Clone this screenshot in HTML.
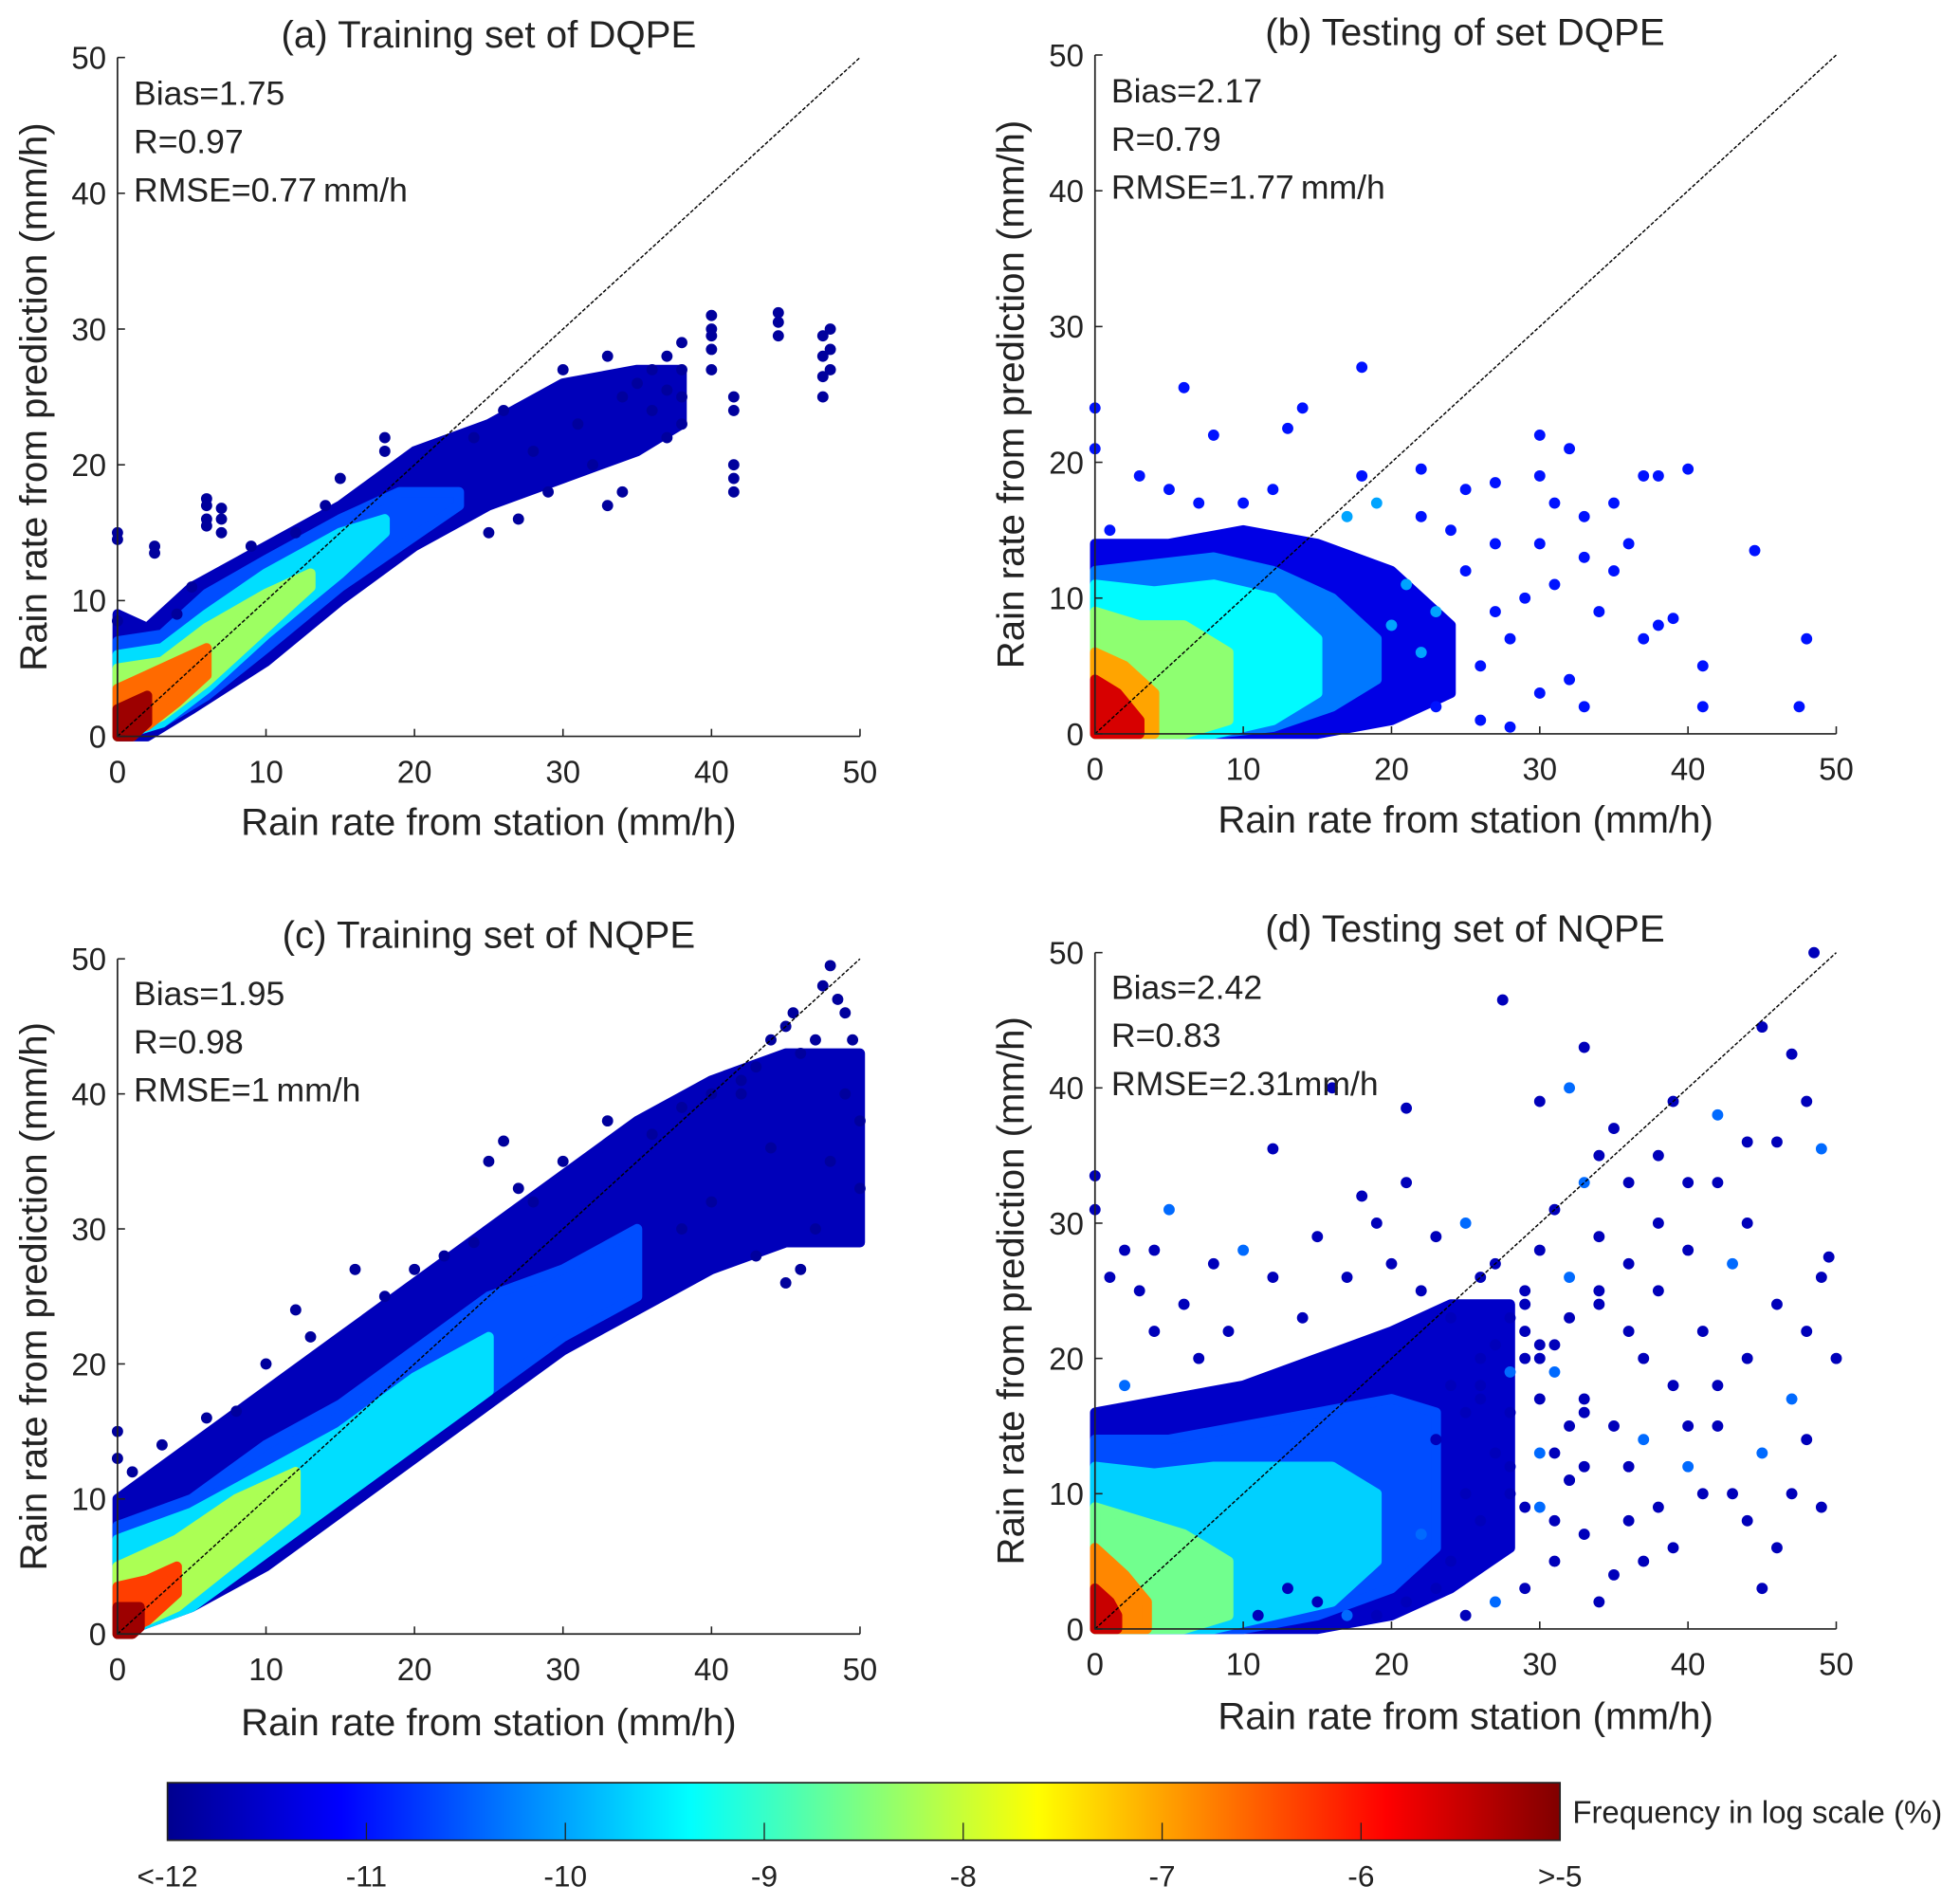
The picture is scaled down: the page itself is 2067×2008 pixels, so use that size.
<!DOCTYPE html>
<html><head><meta charset="utf-8">
<style>
html,body{margin:0;padding:0;background:#fff;}
svg{display:block;font-family:"Liberation Sans",Arial,sans-serif;}
</style></head>
<body>
<svg id="fig" width="2067" height="2008" viewBox="0 0 1568 1523" preserveAspectRatio="none" xmlns="http://www.w3.org/2000/svg">
<defs>
<linearGradient id="jet" x1="0" x2="1" y1="0" y2="0">
<stop offset="0" stop-color="#00008f"/><stop offset="0.125" stop-color="#0000ff"/><stop offset="0.375" stop-color="#00ffff"/><stop offset="0.625" stop-color="#ffff00"/><stop offset="0.875" stop-color="#ff0000"/><stop offset="1" stop-color="#800000"/>
</linearGradient>
</defs>
</svg>
<script>
// ---- data ----
const panelTitles = ["(a) Training set of DQPE","(b) Testing of set DQPE","(c) Training set of NQPE","(d) Testing set of NQPE"];
const panelStats = [["Bias=1.75","R=0.97","RMSE=0.77\u2009mm/h"],["Bias=2.17","R=0.79","RMSE=1.77\u2009mm/h"],["Bias=1.95","R=0.98","RMSE=1\u2009mm/h"],["Bias=2.42","R=0.83","RMSE=2.31mm/h"]];
const tickValues = [0,10,20,30,40,50];
const cbTickLabels = ["<-12","-11","-10","-9","-8","-7","-6",">-5"];
const cbTickValues = [-12,-11,-10,-9,-8,-7,-6,-5];

// density envelopes: level, x, lower, upper
const aEnvLevel = [-11.6,-10.6,-9.6,-8.3,-6.6,-5.2];
const aEnvX = [[0,2,5,10,15,20,25,30,35,38],[0,3,6,10,15,19,23],[0,3,6,10,15,18],[0,3,6,10,13],[0,2,4,6],[0,1,2]];
const aEnvLo = [[0,0,2,5.5,10,14,17,19,21,23],[0,1,3,6.5,11,14,17],[0,1,3.5,7.5,12,15],[0,1.5,4,8,11],[0,0.8,2.5,4.5],[0,0,1]];
const aEnvHi = [[9,8,11,14,17,21,23,26,27,27],[7,7.5,10.5,13,16,18,18],[6,6.5,9,12,15,16],[5,5.5,8,10.5,12],[3.5,4.5,5.5,6.5],[2,2.5,3]];

const bEnvLevel = [-11.3,-10.3,-9.4,-8.4,-7,-5.6];
const bEnvX = [[0,5,10,15,20,24],[0,4,8,12,16,19],[0,4,8,12,15],[0,3,6,9],[0,2,4],[0,1.5,3]];
const bEnvLo = [[0,0,0,0,1,3],[0,0,0,0.5,2,4],[0,0,0,1,3],[0,0,0,1],[0,0,0],[0,0,0]];
const bEnvHi = [[14,14,15,14,12,8],[12,12.5,13,12,10,7],[11,10.5,11,10,7],[9,8,8,6],[6,5,3],[4,3,1]];

const cEnvLevel = [-11.6,-10.6,-9.6,-8.2,-6.3,-5.2];
const cEnvX = [[0,5,10,15,20,25,30,35,40,45,50],[0,5,10,15,20,25,30,35],[0,5,10,15,20,25],[0,4,8,12],[0,2,4],[0,1,1.5]];
const cEnvLo = [[0,2,5,9,13,17,21,24,27,29,29],[0,2,6,10,14,18,22,25],[0,2,6,10,14,18],[0,2,5.5,9],[0,1,3],[0,0,0.5]];
const cEnvHi = [[10,14,18,22,26,30,34,38,41,43,43],[8,10,14,17,21,25,27,30],[7,9,12,15,19,22],[5,7,10,12],[3.5,4,5],[2,2,2]];

const dEnvLevel = [-11.5,-10.6,-9.7,-8.6,-6.8,-5.5];
const dEnvX = [[0,5,10,15,20,24,28],[0,5,10,15,20,23],[0,4,8,12,16,19],[0,3,6,9],[0,2,3.5],[0,1,1.5]];
const dEnvLo = [[0,0,0,0,1,3,6],[0,0,0,1,3,6],[0,0,0,1,2,5],[0,0,0,1],[0,0,0],[0,0,0]];
const dEnvHi = [[16,17,18,20,22,24,24],[14,14,15,16,17,16],[12,11.5,12,12,12,10],[9,8,7,5],[6,4,2],[3,2,1]];

// outlier points
const aPtsX = [0,0,0,2.5,2.5,6,6,6,6,7,7,7,40,40,40,40,40,44.5,44.5,44.5,47.5,47.5,47.5,47.5,48,48,48,41.5,41.5,41.5,41.5,41.5,38,38,38,38,37,37,37,36,36,35,34,34,33,33,32,31,30,29,28,27,26,25,24,15,18,18,14,12,9,5,4];
const aPtsY = [14.5,15,8.5,13.5,14,16,17,17.5,15.5,15,16,16.8,27,28.5,30,31,29.5,29.5,30.5,31.2,25,26.5,28,29.5,27,28.5,30,18,19,20,24,25,23,25,27,29,22,25.5,28,24,27,26,18,25,17,28,20,23,27,18,21,16,24,15,22,19,21,22,17,15,14,11,9];
const aPtsC = aPtsX.map(() => -11.8);

const bPtsX = [0,0,6,8,14,13,18,18,3,5,22,25,27,30,32,30,31,33,35,37,38,40,36,44.5,39,37,38,41,41,47.5,48,33,32,28,30,29,31,33,26,27,25,23,22,20,24,27,30,34,35,28,26,22,19,17,21,23,10,12,7,1];
const bPtsY = [24,21,25.5,22,24,22.5,27,19,19,18,19.5,18,18.5,22,21,19,17,16,17,19,19,19.5,14,13.5,8.5,7,8,5,2,2,7,2,4,0.5,3,10,11,13,5,9,12,2,6,8,15,14,14,9,12,7,1,16,17,16,11,9,17,18,17,15];
const bPtsC = [-11,-11,-11,-11,-11,-11,-11,-11,-11,-11,-11,-11,-11,-11,-11,-11,-11,-11,-11,-11,-11,-11,-11,-11,-11,-11,-11,-11,-11,-11,-11,-11,-11,-11,-11,-11,-11,-11,-11,-11,-11,-11,-10,-10,-11,-11,-11,-11,-11,-11,-11,-11,-10,-10,-10,-10,-11,-11,-11,-11];

const cPtsX = [0,0,1,3,6,8,10,12,13,16,18,20,22,24,26,27,25,28,30,33,36,38,40,42,43,44,45,45.5,46,47,47.5,48,48.5,49,49.5,49,48,47,46,50,50,44,42,40,38,43,45];
const cPtsY = [15,13,12,14,16,16.5,20,24,22,27,25,27,28,29,36.5,33,35,32,35,38,37,39,40,41,42,44,45,46,43,44,48,49.5,47,46,44,40,35,30,27,38,33,36,40,32,30,28,26];
const cPtsC = cPtsX.map(() => -11.8);

const dPtsX = [0,0,1,5,4,2,12,16,27.5,33,32,30,35,34,36,38,40,42,44,46,48,47,45,48.5,49,49.5,49,48,50,46,44,43,40,41,38,37,39,42,45,47,49,44,46,45,43,40,38,36,35,33,31,29,27,25,23,21,37,34,32,30,28,33,35,31,29,27,25,23,21,21,18,15,12,10,8,6,9,7,4,3,2,14,17,19,26,28,30,32,34,36,38,40,42,44,47,48,42,39,36,34,31,33,29,26,24,22,20,15,17,19,11,13,28,26,24,22,25,30,33,36,39,41,37,24,27,29,31,29,30,31,32,27,26,28,25,23,30,32,34,29,31,33,26,28,30,32];
const dPtsY = [33.5,31,26,31,28,28,35.5,40,46.5,43,40,39,37,35,33,35,33,38,36,36,39,42.5,44.5,50,35.5,27.5,26,22,20,24,30,27,28,22,25,20,18,15,13,10,9,8,6,3,10,12,9,8,4,7,5,3,2,1,3,2,5,2,11,13,16,17,15,21,24,27,30,29,33,38.5,32,29,26,28,27,24,22,20,22,25,18,23,26,30,26,23,28,26,24,22,30,15,18,20,17,14,33,39,27,29,31,33,20,20,23,25,27,2,1,1,1,3,10,8,5,7,16,17,12,12,6,10,14,18,13,9,8,25,21,19,15,21,17,12,10,14,9,23,25,22,13,16,18,19,20,11,9];
const dPtsC = dPtsX.map((v,i) => (i % 7 === 3 ? -10.4 : -11.6));

// ---- layout ----
const NS = "http://www.w3.org/2000/svg";
const svg = document.getElementById("fig");
const panels = [
  {x0:94,x1:688,y0:589,y1:46,env:[aEnvLevel,aEnvX,aEnvLo,aEnvHi],pts:[aPtsX,aPtsY,aPtsC],tx:391,ty:28,sx:107,sy:74,xl:657},
  {x0:876,x1:1469,y0:587,y1:44,env:[bEnvLevel,bEnvX,bEnvLo,bEnvHi],pts:[bPtsX,bPtsY,bPtsC],tx:1172,ty:26,sx:889,sy:72,xl:655},
  {x0:94,x1:688,y0:1307,y1:767,env:[cEnvLevel,cEnvX,cEnvLo,cEnvHi],pts:[cPtsX,cPtsY,cPtsC],tx:391,ty:748,sx:107,sy:794,xl:1377},
  {x0:876,x1:1469,y0:1303,y1:762,env:[dEnvLevel,dEnvX,dEnvLo,dEnvHi],pts:[dPtsX,dPtsY,dPtsC],tx:1172,ty:743,sx:889,sy:789,xl:1372}
];
function jet(v){
  let t=(v+12)/7; t=Math.max(0,Math.min(1,t));
  const f=(x)=>Math.max(0,Math.min(1,1.5-Math.abs(4*t-x)));
  const r=f(3),g=f(2),b=f(1);
  return `rgb(${Math.round(r*255)},${Math.round(g*255)},${Math.round(b*255)})`;
}
function mk(tag,attrs,parent){const e=document.createElementNS(NS,tag);for(const k in attrs)e.setAttribute(k,attrs[k]);(parent||svg).appendChild(e);return e;}

panels.forEach((p,pi)=>{
  const g=mk("g",{});
  
  
  const X=(v)=>p.x0+(p.x1-p.x0)*v/50;
  const Y=(v)=>p.y0+(p.y1-p.y0)*v/50;
  const [lv,ex,lo,hi]=p.env;
  lv.forEach((L,k)=>{
    const up=ex[k].map((x,i)=>X(x)+","+Y(hi[k][i]));
    const dn=ex[k].map((x,i)=>X(x)+","+Y(lo[k][i])).reverse();
    const poly=mk("polygon",{points:up.concat(dn).join(" "),fill:jet(L),stroke:jet(L),"stroke-width":8,"stroke-linejoin":"round"},g);
    
    
  });
  const [px,py,pc]=p.pts;
  px.forEach((x,i)=>{
    const c=mk("circle",{cx:X(x),cy:Y(py[i]),r:4.5,fill:jet(pc[i])},g);
    
    
  });
  const ln=mk("line",{x1:X(0),y1:Y(0),x2:X(50),y2:Y(50),stroke:"#000","stroke-width":1.1,"stroke-dasharray":"3,1.5"},g);
  
  
  const ax=mk("path",{d:`M${X(0)},${Y(50)}V${Y(0)}H${X(50)}`,fill:"none",stroke:"#222","stroke-width":1.3},g);
  
  
  tickValues.forEach(v=>{
    mk("line",{x1:X(v),x2:X(v),y1:Y(0),y2:Y(0)-6,stroke:"#222","stroke-width":1.2},g);
    mk("line",{x1:X(0),x2:X(0)+6,y1:Y(v),y2:Y(v),stroke:"#222","stroke-width":1.2},g);
    const tx=mk("text",{x:X(v),y:Y(0)+37,"font-size":25,"text-anchor":"middle",fill:"#222"},g);tx.textContent=v;
    
    
    const ty=mk("text",{x:X(0)-9,y:Y(v)+9,"font-size":25,"text-anchor":"end",fill:"#222"},g);ty.textContent=v;
    
    
  });
  const t=mk("text",{x:p.tx,y:p.ty+10,"font-size":30.5,"text-anchor":"middle",fill:"#222"},g);t.textContent=panelTitles[pi];
  
  
  const xl=mk("text",{x:(X(0)+X(50))/2,y:p.xl+11,"font-size":30.5,"text-anchor":"middle",fill:"#222"},g);xl.textContent="Rain rate from station (mm/h)";
  
  
  const ym=(Y(0)+Y(50))/2, yx=X(0)-57;
  const yl=mk("text",{x:yx,y:ym,"font-size":30.5,"text-anchor":"middle",fill:"#222",transform:`rotate(-90 ${yx} ${ym})`},g);yl.textContent="Rain rate from prediction (mm/h)";
  
  
  panelStats[pi].forEach((s,k)=>{
    const st=mk("text",{x:p.sx,y:p.sy+10+k*38.5,"font-size":27,fill:"#222"},g);st.textContent=s;
    
    
  });
});

// colorbar
const cbx0=134,cbx1=1248,cby0=1426,cby1=1472;
const cb=mk("g",{});


const cbr=mk("rect",{x:cbx0,y:cby0,width:cbx1-cbx0,height:cby1-cby0,fill:"url(#jet)",stroke:"#222","stroke-width":1.3},cb);


const CX=(v)=>cbx0+(cbx1-cbx0)*(v+12)/7;
cbTickValues.forEach((v,i)=>{
  if(i>0&&i<7) mk("line",{x1:CX(v),x2:CX(v),y1:cby1,y2:cby1-14,stroke:"#222","stroke-width":1},cb);
  const t=mk("text",{x:CX(v),y:1509,"font-size":24,"text-anchor":"middle",fill:"#222"},cb);t.textContent=cbTickLabels[i];
  
  
});
const cbl=mk("text",{x:1258,y:1458,"font-size":25,fill:"#222"},cb);cbl.textContent="Frequency in log scale (%)";


</script>
</body></html>
